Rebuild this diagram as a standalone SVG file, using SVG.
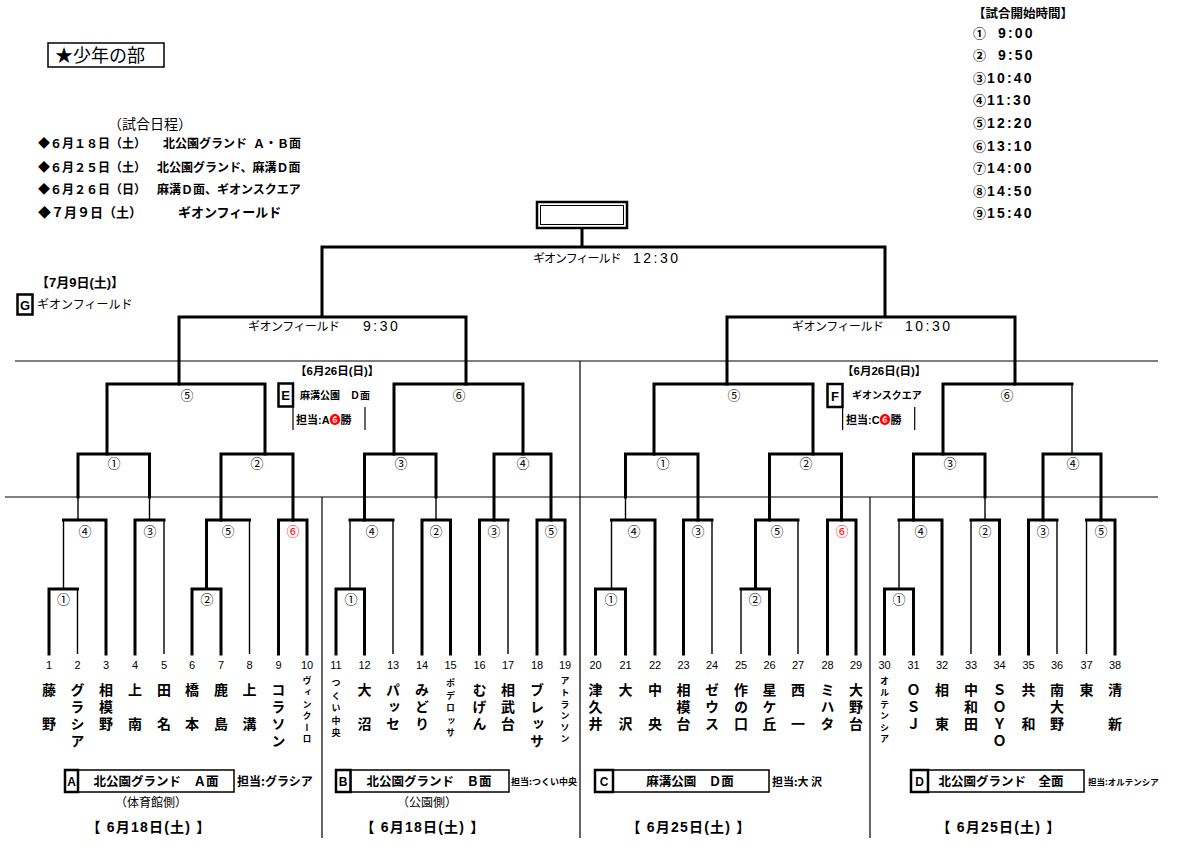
<svg xmlns="http://www.w3.org/2000/svg" width="1177" height="863" viewBox="0 0 1177 863">
<style>
text{font-family:"Liberation Sans","Noto Sans CJK JP",sans-serif;fill:#000}
.jp{font-family:"Noto Sans CJK JP","Liberation Sans",sans-serif}
.b{font-weight:bold}
.tk{stroke:#000;stroke-width:3;fill:none;stroke-linecap:square}
.tn{stroke:#000;stroke-width:1.4;fill:none}
.gl{stroke:#000;stroke-width:1.2;fill:none}
.bx{stroke:#000;stroke-width:1.5;fill:#fff}
.bx2{stroke:#000;stroke-width:2.5;fill:#fff}
.mc{font-family:"Noto Sans CJK JP",sans-serif;font-size:13px;text-anchor:middle}
.red{fill:#f00}
.num{font-size:11px;text-anchor:middle}
.nm{font-family:"Noto Sans CJK JP",sans-serif;font-size:14px;font-weight:bold;writing-mode:vertical-rl;letter-spacing:3px}
.sm{font-family:"Noto Sans CJK JP",sans-serif;font-size:9px;font-weight:bold;writing-mode:vertical-rl;letter-spacing:2.6px}
.s5{letter-spacing:3.5px}
.mid{text-anchor:middle}
</style>
<rect width="1177" height="863" fill="#fff"/>

<g id="title">
<rect class="bx" x="48" y="43" width="116" height="24"/>
<text class="jp" x="55" y="62" font-size="18">★少年の部</text>
</g>

<g id="schedule">
<text class="jp" x="108" y="129" font-size="14">（試合日程）</text>
<text class="jp b" font-size="12"><tspan x="38" y="148">◆６月１８日（土）</tspan><tspan x="163" y="148">北公園グランド</tspan><tspan x="253" y="148">Ａ・Ｂ面</tspan></text>
<text class="jp b" font-size="12"><tspan x="38" y="171.5">◆６月２５日（土）</tspan><tspan x="157" y="171.5">北公園グランド、麻溝Ｄ面</tspan></text>
<text class="jp b" font-size="12"><tspan x="38" y="194">◆６月２６日（日）</tspan><tspan x="157" y="194">麻溝Ｄ面、ギオンスクエア</tspan></text>
<text class="jp b" font-size="13"><tspan x="38" y="217">◆７月９日（土）</tspan><tspan x="178" y="217">ギオンフィールド</tspan></text>
</g>

<g id="start-times">
<text class="jp b" x="973" y="17.5" font-size="12.5">【試合開始時間】</text>
<text class="b" font-size="14"><tspan x="973" y="37.5" font-size="13">①</tspan><tspan x="998" y="37.5" letter-spacing="2.2">9:00</tspan></text>
<text class="b" font-size="14"><tspan x="973" y="60" font-size="13">②</tspan><tspan x="998" y="60" letter-spacing="2.2">9:50</tspan></text>
<text class="b" font-size="14"><tspan x="973" y="82.5" font-size="13">③</tspan><tspan x="987" y="82.5" letter-spacing="2.2">10:40</tspan></text>
<text class="b" font-size="14"><tspan x="973" y="105" font-size="13">④</tspan><tspan x="987" y="105" letter-spacing="2.2">11:30</tspan></text>
<text class="b" font-size="14"><tspan x="973" y="128" font-size="13">⑤</tspan><tspan x="987" y="128" letter-spacing="2.2">12:20</tspan></text>
<text class="b" font-size="14"><tspan x="973" y="150.5" font-size="13">⑥</tspan><tspan x="987" y="150.5" letter-spacing="2.2">13:10</tspan></text>
<text class="b" font-size="14"><tspan x="973" y="173" font-size="13">⑦</tspan><tspan x="987" y="173" letter-spacing="2.2">14:00</tspan></text>
<text class="b" font-size="14"><tspan x="973" y="195.5" font-size="13">⑧</tspan><tspan x="987" y="195.5" letter-spacing="2.2">14:50</tspan></text>
<text class="b" font-size="14"><tspan x="973" y="218" font-size="13">⑨</tspan><tspan x="987" y="218" letter-spacing="2.2">15:40</tspan></text>
</g>

<g id="connectors">
<path class="gl" d="M15 361H1158M5 497H1158M322 497V838M580 361V838M870 497V838"/>
<path class="gl" d="M293 407V430M365 407V430M842.6 407V430M914.7 407V430"/>
<path class="tk" d="M582 228V247M322 317V247H885V317M179 384V317H466V384M727 384V317H1015V384"/>
<path class="tk" d="M107 454V384H265V454M394 454V384H523V454M654 454V384H813V454M943 454V384H1072"/>
<path class="tn" d="M1072 384V454"/>
<path class="tk" d="M78 497V454H149.5V497M221 520V454H293V520M364.5 520V454H436V497M494 520V454H551V520M625.5 497V454H698V520M769.5 520V454H841.5V520M913.5 520V454H985V497M1043 520V454H1101V520"/>
<path class="tn" d="M78 497V520M149.5 497V520M436 497V520M625.5 497V520M985 497V520"/>
<path class="tk" d="M49 654V589H77.5M63.5 520H106V654M135 654V520H164M192 654V589H221V654M206.5 589V520H249.5M278.5 654V520H307V654"/>
<path class="tn" d="M77.5 589V654M63.5 520V589M164 520V654M249.5 520V654"/>
<path class="tk" d="M336 654V589H364.5V654M350 520H393M422 654V520H450.5V654M479.5 654V520H508M537 654V520H565V654"/>
<path class="tn" d="M350 520V589M393 520V654M508 520V654"/>
<path class="tk" d="M595.5 654V589H625.5V654M611.5 520H655V654M683.5 654V520H712M741 589H769.5V654M755.5 589V520H798M827.5 654V520H856V654"/>
<path class="tn" d="M611.5 520V589M712 520V654M741 589V654M798 520V654"/>
<path class="tk" d="M884.5 654V589H913.5V654M899 520H942V654M971 520H999.5V654M1028.5 654V520H1057M1086.5 520H1115V654"/>
<path class="tn" d="M899 520V589M971 520V654M1057 520V654M1086.5 520V654"/>
</g>

<g id="final">
<rect x="537" y="202" width="90" height="26" fill="#fff" stroke="#000" stroke-width="2.5"/>
<rect x="540.5" y="205.5" width="83" height="19" fill="none" stroke="#000" stroke-width="1"/>
<text class="jp" x="533" y="263" font-size="12" letter-spacing="-1">ギオンフィールド<tspan x="633" font-family="Liberation Sans" font-size="14" letter-spacing="2.5">12:30</tspan></text>
</g>

<g id="semi-left">
<text class="jp" x="248" y="331" font-size="12" letter-spacing="-0.5">ギオンフィールド<tspan x="363" font-family="Liberation Sans" font-size="14" letter-spacing="2.5">9:30</tspan></text>
</g>
<g id="semi-right">
<text class="jp" x="792" y="331" font-size="12" letter-spacing="-0.5">ギオンフィールド<tspan x="905" font-family="Liberation Sans" font-size="14" letter-spacing="2.5">10:30</tspan></text>
</g>

<g id="venue-G">
<text class="b" x="36" y="287" font-size="13">【7月9日(土)】</text>
<rect class="bx2" x="17.5" y="294.5" width="15" height="20"/>
<text class="b mid" x="25" y="309.5" font-size="13">G</text>
<text class="jp" x="37" y="308.5" font-size="12">ギオンフィールド</text>
</g>

<g id="venue-E">
<text class="b" x="295" y="374.5" font-size="11.5">【6月26日(日)】</text>
<rect class="bx2" x="278.5" y="383.5" width="14.5" height="23"/>
<text class="b mid" x="285.7" y="400" font-size="13">E</text>
<text class="jp b" x="300" y="399" font-size="10">麻溝公園　Ｄ面</text>
<text class="b" x="296" y="424" font-size="11">担当:A<tspan class="red">❻</tspan>勝</text>
</g>

<g id="venue-F">
<text class="b" x="842" y="374.5" font-size="11.5">【6月26日(日)】</text>
<rect class="bx2" x="827.5" y="384" width="15" height="23"/>
<text class="b mid" x="835" y="400.5" font-size="13">F</text>
<text class="jp b" x="852" y="399" font-size="10">ギオンスクエア</text>
<text class="b" x="846" y="424" font-size="11">担当:C<tspan class="red">❻</tspan>勝</text>
</g>

<g id="match-labels">
<text class="mc" x="187" y="399.5">⑤</text>
<text class="mc" x="459" y="399.5">⑥</text>
<text class="mc" x="734" y="399.5">⑤</text>
<text class="mc" x="1007" y="399.5">⑥</text>
<text class="mc" x="114" y="467.5">①</text>
<text class="mc" x="257" y="467.5">②</text>
<text class="mc" x="401" y="467.5">③</text>
<text class="mc" x="523" y="467.5">④</text>
<text class="mc" x="663" y="467.5">①</text>
<text class="mc" x="806" y="467.5">②</text>
<text class="mc" x="950" y="467.5">③</text>
<text class="mc" x="1073" y="467.5">④</text>
<text class="mc" x="85" y="535.5">④</text>
<text class="mc" x="150" y="535.5">③</text>
<text class="mc" x="228" y="535.5">⑤</text>
<text class="mc red" x="293" y="535.5">⑥</text>
<text class="mc" x="63.5" y="603.5">①</text>
<text class="mc" x="207" y="603.5">②</text>
<text class="mc" x="372" y="535.5">④</text>
<text class="mc" x="436" y="535.5">②</text>
<text class="mc" x="494" y="535.5">③</text>
<text class="mc" x="551" y="535.5">⑤</text>
<text class="mc" x="351" y="603.5">①</text>
<text class="mc" x="634" y="535.5">④</text>
<text class="mc" x="698" y="535.5">③</text>
<text class="mc" x="777" y="535.5">⑤</text>
<text class="mc red" x="842" y="535.5">⑥</text>
<text class="mc" x="611" y="603.5">①</text>
<text class="mc" x="755" y="603.5">②</text>
<text class="mc" x="921" y="535.5">④</text>
<text class="mc" x="985" y="535.5">②</text>
<text class="mc" x="1043" y="535.5">③</text>
<text class="mc" x="1101" y="535.5">⑤</text>
<text class="mc" x="899" y="603.5">①</text>
</g>

<g id="team-1"><text class="num" x="49" y="669">1</text><text class="nm" x="49" y="683">藤　野</text></g>
<g id="team-2"><text class="num" x="77.5" y="669">2</text><text class="nm" x="77.5" y="683">グラシア</text></g>
<g id="team-3"><text class="num" x="106" y="669">3</text><text class="nm" x="106" y="683">相模野</text></g>
<g id="team-4"><text class="num" x="135" y="669">4</text><text class="nm" x="135" y="683">上　南</text></g>
<g id="team-5"><text class="num" x="164" y="669">5</text><text class="nm" x="164" y="683">田　名</text></g>
<g id="team-6"><text class="num" x="192" y="669">6</text><text class="nm" x="192" y="683">橋　本</text></g>
<g id="team-7"><text class="num" x="221" y="669">7</text><text class="nm" x="221" y="683">鹿　島</text></g>
<g id="team-8"><text class="num" x="249.5" y="669">8</text><text class="nm" x="249.5" y="683">上　溝</text></g>
<g id="team-9"><text class="num" x="278.5" y="669">9</text><text class="nm" x="278.5" y="683">コラソン</text></g>
<g id="team-10"><text class="num" x="307" y="669">10</text><text class="sm" x="307" y="676.5">ヴィンクーロ</text></g>
<g id="team-11"><text class="num" x="336" y="669">11</text><text class="sm s5" x="336" y="678.5">つくい中央</text></g>
<g id="team-12"><text class="num" x="364.5" y="669">12</text><text class="nm" x="364.5" y="683">大　沼</text></g>
<g id="team-13"><text class="num" x="393" y="669">13</text><text class="nm" x="393" y="683">パッセ</text></g>
<g id="team-14"><text class="num" x="422" y="669">14</text><text class="nm" x="422" y="683">みどり</text></g>
<g id="team-15"><text class="num" x="450.5" y="669">15</text><text class="sm s5" x="450.5" y="678.5">ポデロッサ</text></g>
<g id="team-16"><text class="num" x="479.5" y="669">16</text><text class="nm" x="479.5" y="683">むげん</text></g>
<g id="team-17"><text class="num" x="508" y="669">17</text><text class="nm" x="508" y="683">相武台</text></g>
<g id="team-18"><text class="num" x="537" y="669">18</text><text class="nm" x="537" y="683">ブレッサ</text></g>
<g id="team-19"><text class="num" x="565" y="669">19</text><text class="sm" x="565" y="676.5">アトランソン</text></g>
<g id="team-20"><text class="num" x="595.5" y="669">20</text><text class="nm" x="595.5" y="683">津久井</text></g>
<g id="team-21"><text class="num" x="625.5" y="669">21</text><text class="nm" x="625.5" y="683">大　沢</text></g>
<g id="team-22"><text class="num" x="655" y="669">22</text><text class="nm" x="655" y="683">中　央</text></g>
<g id="team-23"><text class="num" x="683.5" y="669">23</text><text class="nm" x="683.5" y="683">相模台</text></g>
<g id="team-24"><text class="num" x="712" y="669">24</text><text class="nm" x="712" y="683">ゼウス</text></g>
<g id="team-25"><text class="num" x="741" y="669">25</text><text class="nm" x="741" y="683">作の口</text></g>
<g id="team-26"><text class="num" x="769.5" y="669">26</text><text class="nm" x="769.5" y="683">星ケ丘</text></g>
<g id="team-27"><text class="num" x="798" y="669">27</text><text class="nm" x="798" y="683">西　一</text></g>
<g id="team-28"><text class="num" x="827.5" y="669">28</text><text class="nm" x="827.5" y="683">ミハタ</text></g>
<g id="team-29"><text class="num" x="856" y="669">29</text><text class="nm" x="856" y="683">大野台</text></g>
<g id="team-30"><text class="num" x="884.5" y="669">30</text><text class="sm" x="884.5" y="676.5">オルテンシア</text></g>
<g id="team-31"><text class="num" x="913.5" y="669">31</text><text class="nm" x="913.5" y="683">ＯＳＪ</text></g>
<g id="team-32"><text class="num" x="942" y="669">32</text><text class="nm" x="942" y="683">相　東</text></g>
<g id="team-33"><text class="num" x="971" y="669">33</text><text class="nm" x="971" y="683">中和田</text></g>
<g id="team-34"><text class="num" x="999.5" y="669">34</text><text class="nm" x="999.5" y="683">ＳＯＹＯ</text></g>
<g id="team-35"><text class="num" x="1028.5" y="669">35</text><text class="nm" x="1028.5" y="683">共　和</text></g>
<g id="team-36"><text class="num" x="1057" y="669">36</text><text class="nm" x="1057" y="683">南大野</text></g>
<g id="team-37"><text class="num" x="1086.5" y="669">37</text><text class="nm" x="1086.5" y="683">東</text></g>
<g id="team-38"><text class="num" x="1115" y="669">38</text><text class="nm" x="1115" y="683">清　新</text></g>

<g id="venue-A">
<rect class="bx" x="78" y="770" width="156" height="22"/>
<rect class="bx2" x="65" y="770" width="13" height="22"/>
<text class="b mid" x="71.5" y="785.5" font-size="12">A</text>
<text class="jp b mid" x="156" y="786" font-size="12.5">北公園グランド　Ａ面</text>
<text class="jp b" x="237" y="785.5" font-size="12">担当:グラシア</text>
<text class="jp mid" x="151" y="806.5" font-size="12">（体育館側）</text>
<text class="b mid" x="149" y="832" font-size="14" letter-spacing="1.2">【 6月18日(土) 】</text>
</g>
<g id="venue-B">
<rect class="bx" x="350.5" y="770" width="158.5" height="22"/>
<rect class="bx2" x="336" y="770" width="14.5" height="22"/>
<text class="b mid" x="343.2" y="785.5" font-size="12">B</text>
<text class="jp b mid" x="429" y="786" font-size="12.5">北公園グランド　Ｂ面</text>
<text class="jp b" x="511" y="784.5" font-size="9">担当:つくい中央</text>
<text class="jp mid" x="427" y="806.5" font-size="12">（公園側）</text>
<text class="b mid" x="423" y="832" font-size="14" letter-spacing="1.2">【 6月18日(土) 】</text>
</g>
<g id="venue-C">
<rect class="bx" x="613" y="770" width="156" height="22"/>
<rect class="bx2" x="595" y="770" width="18" height="22"/>
<text class="b mid" x="604" y="785.5" font-size="12">C</text>
<text class="jp b mid" x="690" y="786" font-size="12.5">麻溝公園　Ｄ面</text>
<text class="jp b" x="772" y="785.5" font-size="11">担当:大 沢</text>
<text class="b mid" x="689" y="832" font-size="14" letter-spacing="1.2">【 6月25日(土) 】</text>
</g>
<g id="venue-D">
<rect class="bx" x="928" y="770" width="156" height="22"/>
<rect class="bx2" x="911" y="770" width="17" height="22"/>
<text class="b mid" x="919.5" y="785.5" font-size="12">D</text>
<text class="jp b mid" x="1001" y="786" font-size="12.5">北公園グランド　全面</text>
<text class="jp b" x="1088" y="784.5" font-size="8.5">担当:オルテンシア</text>
<text class="b mid" x="999" y="832" font-size="14" letter-spacing="1.2">【 6月25日(土) 】</text>
</g>
</svg>
